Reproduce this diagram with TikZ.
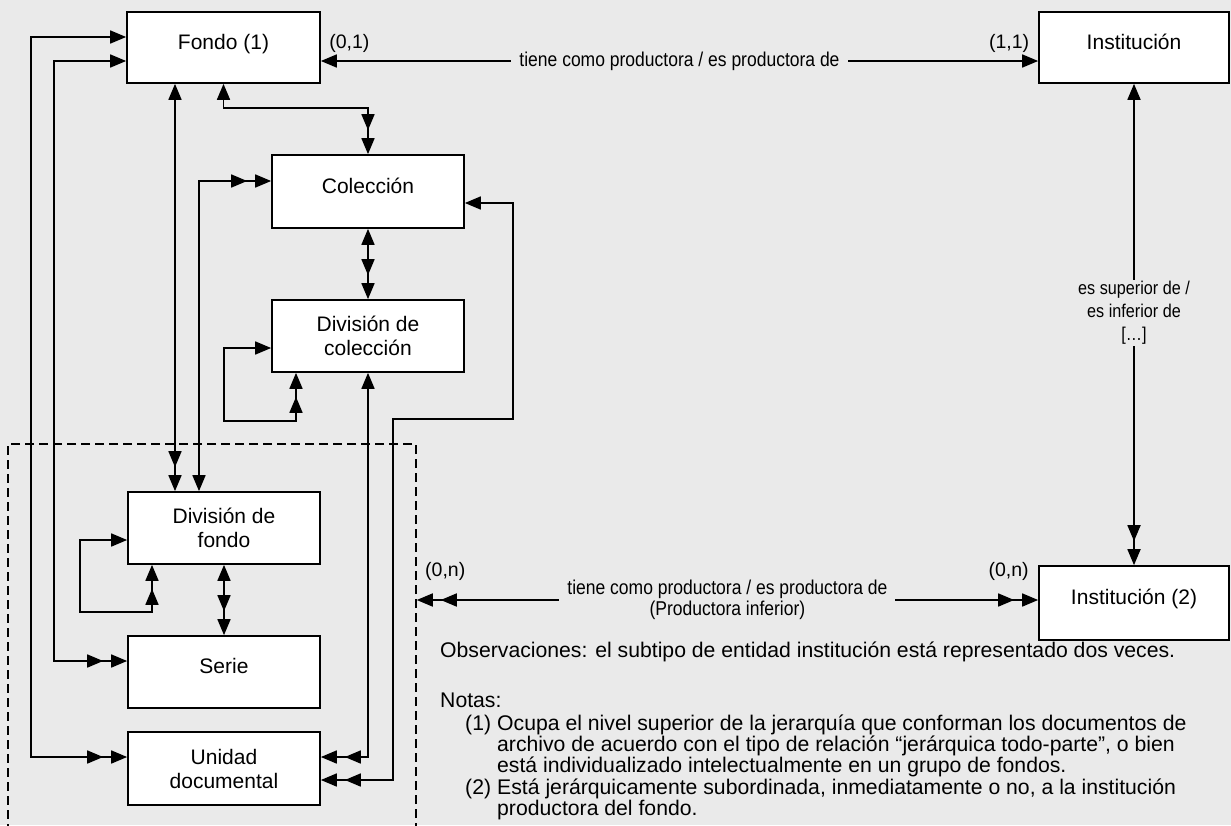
\documentclass[tikz,border=0pt]{standalone}
\usepackage{fontspec}
\setmainfont{Liberation Sans}
\newfontfamily\narrowfont[FakeStretch=0.875]{Liberation Sans}
\usetikzlibrary{arrows.meta}
\definecolor{bg}{RGB}{234,234,234}

\tikzset{
    tri/.tip={Triangle[length=16pt,width=13pt]},
    dbl/.tip={Triangle[length=16pt,width=13pt] Rectangle[length=8pt,width=1.7pt,line width=0pt] Triangle[length=16pt,width=13pt]},
}

\begin{document}
\begin{tikzpicture}[x=1pt, y=-1pt,
    box/.style={draw, line width=1.7pt, fill=white, minimum width=192pt, minimum height=72pt, inner sep=0pt, align=center, font=\fontsize{21}{24}\selectfont},
    onebox/.style={box, text height=15pt, text depth=12pt},
    conn/.style={line width=1.7pt},
    rel/.style={fill=bg, inner xsep=8pt, inner ysep=1pt, align=center, font=\narrowfont\fontsize{20}{21}\selectfont},
    card/.style={inner sep=0pt, font=\fontsize{19.5}{22}\selectfont},
    nota/.style={inner sep=0pt, align=left, font=\fontsize{21.2}{21.3}\selectfont},
    grupo/.style={draw, dash pattern=on 9pt off 5pt, line width=1.5pt, minimum width=408pt, minimum height=400pt},
]
    \useasboundingbox (0,0) rectangle (1231,825);
    \fill[bg] (0,0) rectangle (1231,825);
    \clip (0,0) rectangle (1231,825);

    % Dashed group
    \node[grupo] (grupo) at (212,644) {};

    % Entities
    \node[onebox, minimum width=193pt, minimum height=71pt] (fondo) at (223.5,47.5) {Fondo (1)};
    \node[onebox, minimum height=73pt] (coleccion) at (368,191.5) {Colección};
    \node[box] (divcol) at (368,336) {División de\\colección};
    \node[box] (divfondo) at (224,528) {División de\\fondo};
    \node[onebox] (serie) at (224,672) {Serie};
    \node[box, minimum height=73pt] (unidad) at (224,768.5) {Unidad\\documental};
    \node[onebox, minimum width=190pt, minimum height=71pt] (inst) at (1134,47.5) {Institución};
    \node[onebox, minimum width=190pt, minimum height=74pt] (inst2) at (1134,603) {Institución (2)};

    % Hierarchy links
    \draw[conn, {dbl}-{tri}] ([yshift=11.5pt]unidad.west) -- ++(-96,0) |- ([yshift=10.5pt]fondo.west);
    \draw[conn, {dbl}-{tri}] ([yshift=11pt]serie.west) -- ++(-73,0) |- ([yshift=-13.5pt]fondo.west);
    \draw[conn, {tri}-{dbl}] ([xshift=-48.5pt]fondo.south) -- ([xshift=-49pt]divfondo.north);
    \draw[conn, {dbl}-{tri}] ([yshift=10.5pt]coleccion.west) -| ([xshift=-25pt]divfondo.north);
    \draw[conn, {tri}-{dbl}] (fondo.south) -- ++(0,24) -| (coleccion.north);
    \draw[conn, {tri}-{dbl}] (coleccion.south) -- (divcol.north);
    \draw[conn, {dbl}-{tri}] ([xshift=-72pt]divcol.south) -- ++(0,48) -- ++(-72,0) |- ([yshift=-12pt]divcol.west);
    \draw[conn, {dbl}-{tri}] ([xshift=-72pt]divfondo.south) -- ++(0,47) -- ++(-72,0) |- ([yshift=-12pt]divfondo.west);
    \draw[conn, {tri}-{dbl}] (divfondo.south) -- (serie.north);
    \draw[conn, {tri}-{dbl}] (divcol.south) |- ([yshift=11.5pt]unidad.east);
    \draw[conn, {tri}-{dbl}] ([yshift=-11.5pt]coleccion.east) -- ++(48,0) -- ++(0,216) -- ++(-120,0) |- ([yshift=-11.5pt]unidad.east);

    % Producer links
    \draw[conn, {tri}-{tri}] ([yshift=-13.5pt]fondo.east) -- node[rel] {tiene como productora / es productora de} ([yshift=-13.5pt]inst.west);
    \node[card] (c01) at ([xshift=28.5pt,yshift=4.5pt]fondo.east) {(0,1)};
    \node[card] (c11) at ([xshift=-29pt,yshift=4.5pt]inst.west) {(1,1)};

    \draw[conn, {tri}-{dbl}] (inst.south) -- node[rel, pos=0.476, font=\narrowfont\fontsize{18.5}{23}\selectfont] {es superior de /\\es inferior de\\{[…]}} (inst2.north);

    \draw[conn, {dbl}-{dbl}] ([yshift=44pt]grupo.east) -- node[rel] {tiene como productora / es productora de\\(Productora inferior)} ([yshift=3pt]inst2.west);
    \node[card] (c0n) at ([xshift=28.5pt,yshift=73pt]grupo.east) {(0,n)};
    \node[card] (c0n2) at ([xshift=-29.5pt,yshift=32pt]inst2.west) {(0,n)};

    % Notes
    \node[nota, anchor=west] (obs) at (440,652) {Observaciones: el subtipo de entidad institución está representado dos veces.};
    \node[nota, anchor=north west] (notas) at (440,692.5) {Notas:\\[1.7pt]
        \hspace*{25pt}\makebox[32pt][l]{(1)}Ocupa el nivel superior de la jerarquía que conforman los documentos de\\
        \hspace*{57pt}archivo de acuerdo con el tipo de relación “jerárquica todo-parte”,  o bien\\
        \hspace*{57pt}está individualizado intelectualmente en un grupo de fondos.\\
        \hspace*{25pt}\makebox[32pt][l]{(2)}Está jerárquicamente subordinada, inmediatamente o no, a la institución\\
        \hspace*{57pt}productora del fondo.};

\end{tikzpicture}
\end{document}
